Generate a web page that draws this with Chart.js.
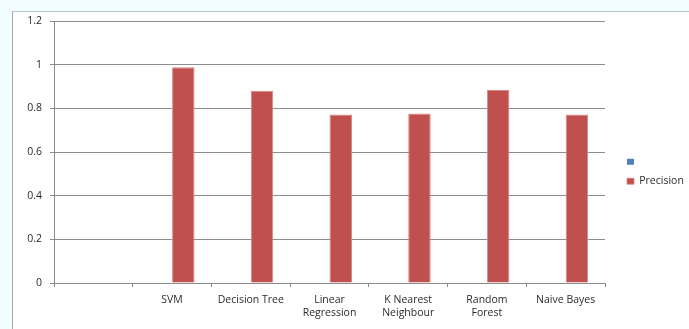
<!DOCTYPE html>
<html>
<head>
<meta charset="utf-8">
<script src="https://cdn.jsdelivr.net/npm/chart.js@4"></script>
<style>
  body { margin: 0; background: #f2fdff; }
  #wrap { position: relative; width: 689px; height: 329px; overflow: hidden; }
  #frame { position: absolute; left: 12px; top: 11px; right: -2px; bottom: -2px;
           background: #fff; border-left: 1px solid #a9a9a9; border-top: 1px solid #b8c4c8; }
  #myChart { position: absolute; left: 0; top: 0; }
</style>
</head>
<body>
<div id="wrap">
  <div id="frame"></div>
  <canvas id="myChart" width="689" height="329"></canvas>
</div>
<script>
  // chart values
  const categories = ['', 'SVM', 'Decision Tree', ['Linear', 'Regression'], ['K Nearest', 'Neighbour'], ['Random', 'Forest'], 'Naive Bayes'];
  const blankSeries = [null, null, null, null, null, null, null];
  const precision = [null, 0.988, 0.880, 0.772, 0.776, 0.884, 0.772];
  const yTicks = { min: 0, max: 1.2, step: 0.2 };

  const ctx = document.getElementById('myChart');
  const font = { family: 'Open Sans', size: 10.5 };

  // keep the legend at a fixed spot right of the plot, like Excel does
  const legendSpot = {
    id: 'legendSpot',
    afterInit(chart) {
      const lg = chart.legend;
      const fit = lg.fit.bind(lg);
      lg.fit = function () { fit(); lg.width = 84; };
    },
    afterLayout(chart) {
      chart.legend.left += 13;
      chart.legend.top -= 7;
    }
  };

  new Chart(ctx, {
    type: 'bar',
    data: {
      labels: categories,
      datasets: [{
        label: '',
        data: blankSeries,
        backgroundColor: '#4f81bd'
      }, {
        label: 'Precision',
        data: precision,
        backgroundColor: '#c0504d',
        borderColor: '#d98683',
        borderWidth: { left: 1, right: 1, top: 1, bottom: 0 }
      }]
    },
    options: {
      responsive: false,
      animation: false,
      layout: { padding: { top: 21, left: 0, right: 0, bottom: 0 } },
      datasets: {
        bar: { categoryPercentage: 2 / 3.5, barPercentage: 1 }
      },
      plugins: {
        tooltip: { enabled: false },
        legend: {
          position: 'right',
          align: 'center',
          labels: {
            boxWidth: 7,
            boxHeight: 6,
            padding: 9,
            color: '#2a2a2a',
            font: font
          }
        }
      },
      scales: {
        x: {
          grid: {
            offset: true,
            drawOnChartArea: false,
            drawTicks: true,
            tickLength: 4,
            color: '#8c8c8c'
          },
          border: { color: '#8c8c8c' },
          ticks: {
            padding: 6,
            color: '#2a2a2a',
            maxRotation: 0,
            autoSkip: false,
            font: { family: 'Open Sans', size: 10.5, lineHeight: 1.25 }
          },
          afterFit(scale) { scale.height = 46; }
        },
        y: {
          min: yTicks.min,
          max: yTicks.max,
          ticks: {
            stepSize: yTicks.step,
            padding: 8,
            color: '#2a2a2a',
            font: font,
            callback: v => String(+v.toFixed(1))
          },
          grid: {
            color: '#8c8c8c',
            tickLength: 4
          },
          border: { color: '#8c8c8c' },
          afterFit(scale) { scale.width = 54; }
        }
      }
    },
    plugins: [legendSpot]
  });
</script>
</body>
</html>
